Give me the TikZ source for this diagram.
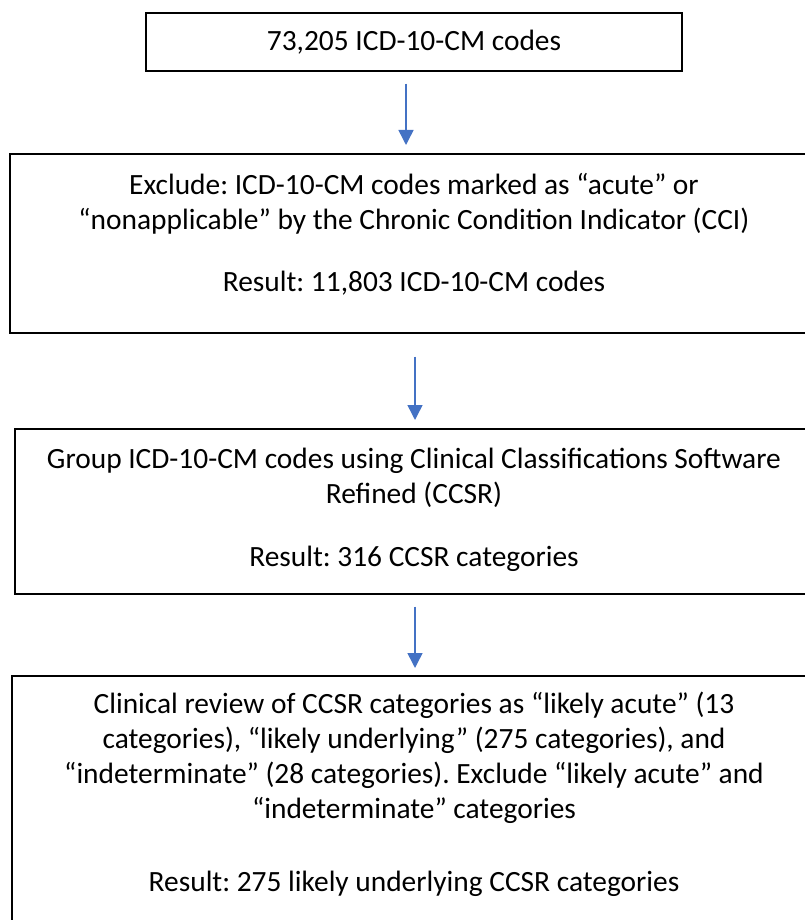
\documentclass[tikz,border=0pt]{standalone}
\usepackage{fontspec}
\setmainfont{Carlito}
\usetikzlibrary{arrows.meta}
\definecolor{arrowblue}{HTML}{4472C4}
\frenchspacing

\begin{document}
\begin{tikzpicture}[x=1pt, y=-1pt,
    stepbox/.style={draw=black, line width=1.6pt, inner sep=0pt, anchor=north,
      font=\fontsize{29.4pt}{35pt}\selectfont},
    flowarrow/.style={draw=arrowblue, line width=1.5pt,
      -{Triangle[length=15pt, width=15pt]}}]
  \useasboundingbox (0,0) rectangle (805,920);

  % the four steps
  \node[stepbox] (codes) at (414,12)
    {\parbox[c][58pt]{536pt}{\centering 73,205 ICD-10-CM codes}};
  \node[stepbox] (exclude) at (414,153)
    {\parbox[t][179pt][t]{808pt}{\centering
      \rule{0pt}{41pt}Exclude: ICD-10-CM codes marked as “acute” or\\
      “nonapplicable” by the Chronic Condition Indicator (CCI)\\[27pt]
      Result: 11,803 ICD-10-CM codes}};
  \node[stepbox] (group) at (414,428)
    {\parbox[t][165pt][t]{798pt}{\centering
      \rule{0pt}{40pt}Group ICD-10-CM codes using Clinical Classifications Software\\
      Refined (CCSR)\\[28pt]
      Result: 316 CCSR categories}};
  \node[stepbox] (review) at (414,675)
    {\parbox[t][260pt][t]{804pt}{\centering
      \rule{0pt}{38pt}Clinical review of CCSR categories as “likely acute” (13\\
      categories), “likely underlying” (275 categories), and\\
      “indeterminate” (28 categories). Exclude “likely acute” and\\
      “indeterminate” categories\\[38pt]
      Result: 275 likely underlying CCSR categories}};

  % arrows between steps
  \draw[flowarrow] ([xshift=-8pt, yshift=-12pt]codes.south)
    -- ([xshift=-8pt, yshift=8pt]exclude.north);
  \draw[flowarrow] ([xshift=1pt, yshift=-23pt]exclude.south)
    -- ([xshift=1pt, yshift=8pt]group.north);
  \draw[flowarrow] ([xshift=1pt, yshift=-12pt]group.south)
    -- ([xshift=1pt, yshift=7pt]review.north);
\end{tikzpicture}
\end{document}
